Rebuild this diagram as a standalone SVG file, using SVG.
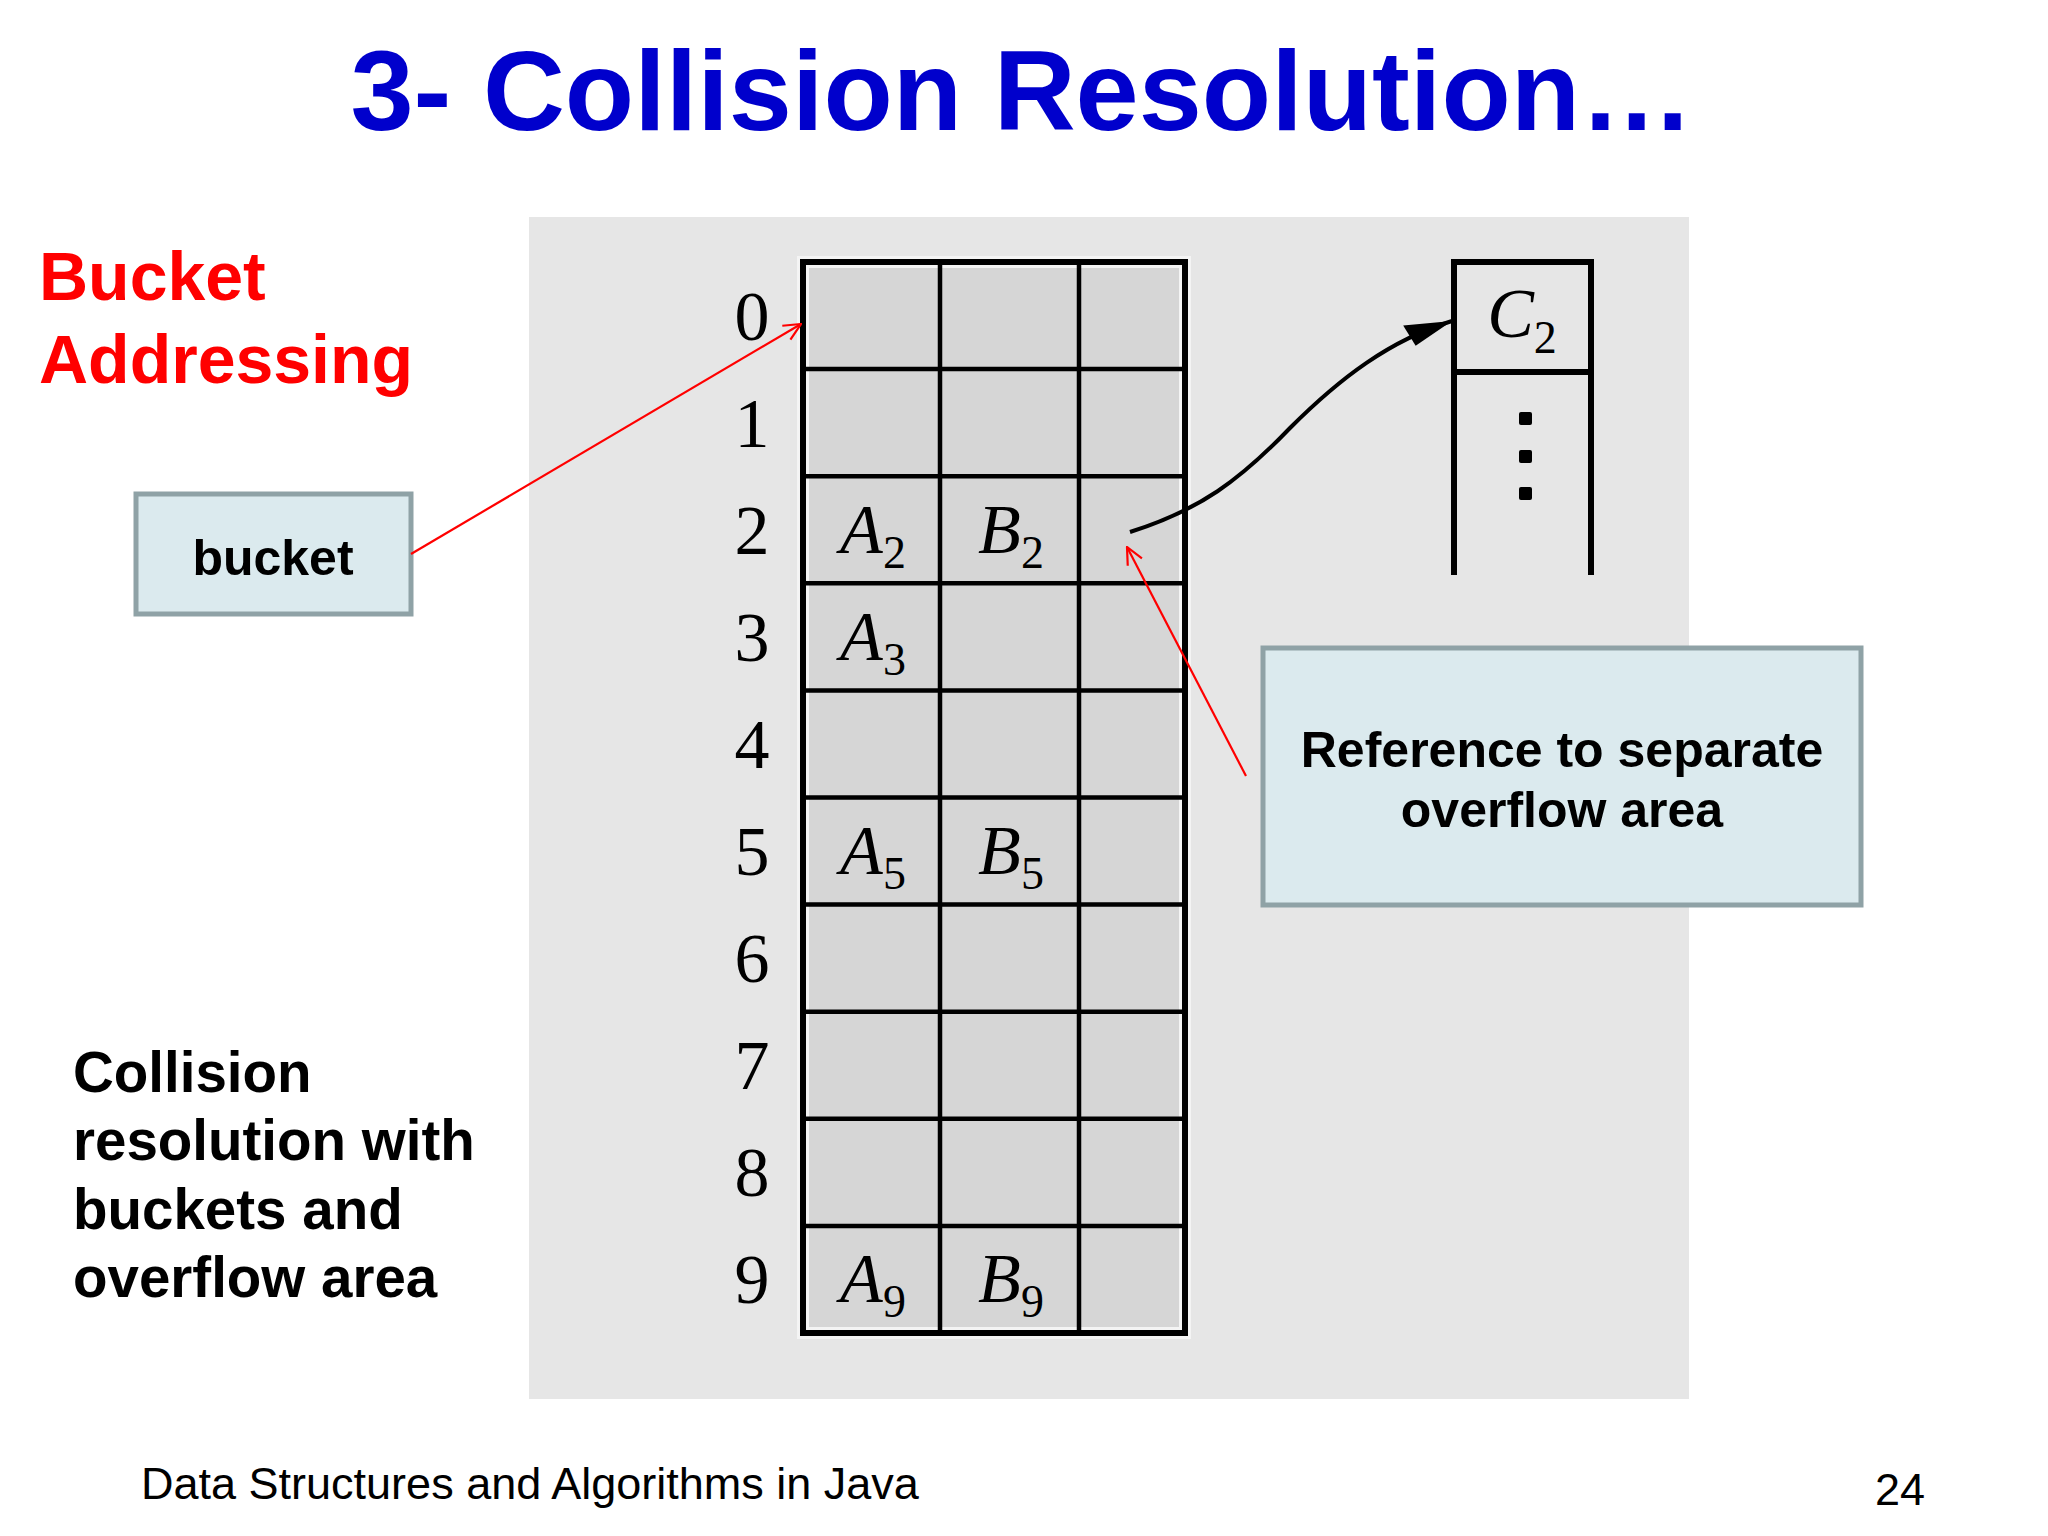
<svg xmlns="http://www.w3.org/2000/svg" width="2048" height="1536" viewBox="0 0 2048 1536">
<defs>
<style>
.sans{font-family:"Liberation Sans",Arial,sans-serif}
.title{font-size:113.5px;font-weight:bold;fill:#0000cc}
.red{font-size:68px;font-weight:bold;fill:#ff0000}
.lbl{font-size:50px;font-weight:bold;fill:#000}
.note{font-size:56.5px;font-weight:bold;fill:#000}
.foot{font-size:45px;fill:#000}
.box{fill:#dbeaee;stroke:#8fa2a6;stroke-width:5}
.cell{fill:#d6d6d6}
.gl{stroke:#000;stroke-width:4.5;fill:none}
.num{font-family:"Liberation Serif","Times New Roman",serif;font-size:70px;fill:#000;text-anchor:middle}
.it{font-family:"Liberation Serif","Times New Roman",serif;font-size:70px;font-style:italic;fill:#000;text-anchor:middle}
.sub{font-size:46px;font-style:normal}
.redln{stroke:#ff0000;stroke-width:2.2;fill:none}
</style>
<marker id="openRed" viewBox="0 0 20 20" refX="19" refY="10" markerWidth="20" markerHeight="20" markerUnits="userSpaceOnUse" orient="auto">
<path d="M2,2 L19,10 L2,18" fill="none" stroke="#ff0000" stroke-width="2.2"/>
</marker>
<marker id="solidBlk" viewBox="0 0 50 30" refX="48" refY="15" markerWidth="50" markerHeight="30" markerUnits="userSpaceOnUse" orient="auto">
<path d="M0,5 L48,15 L6,28 Z" fill="#000"/>
</marker>
</defs>
<rect width="2048" height="1536" fill="#ffffff"/>

<text class="sans title" x="1022" y="130" text-anchor="middle">3- Collision Resolution…</text>

<text class="sans red" x="39" y="300">Bucket</text>
<text class="sans red" x="39" y="383">Addressing</text>

<rect id="panel" x="529" y="217" width="1160" height="1182" fill="#e6e6e6"/>

<g id="table">
<rect x="803" y="262" width="382" height="1071" class="cell" stroke="#f4f4f4" stroke-width="12"/>
<rect x="803" y="262" width="382" height="1071" fill="none" stroke="#000" stroke-width="6"/>
<path class="gl" d="M940,262V1333M1079,262V1333M803,369.1H1185M803,476.2H1185M803,583.3H1185M803,690.4H1185M803,797.5H1185M803,904.6H1185M803,1011.7H1185M803,1118.8H1185M803,1225.9H1185"/>
<text class="num" x="752" y="340">0</text>
<text class="num" x="752" y="447">1</text>
<text class="num" x="752" y="554">2</text>
<text class="num" x="752" y="661">3</text>
<text class="num" x="752" y="768">4</text>
<text class="num" x="752" y="875">5</text>
<text class="num" x="752" y="982">6</text>
<text class="num" x="752" y="1089">7</text>
<text class="num" x="752" y="1196">8</text>
<text class="num" x="752" y="1303">9</text>
<text class="it" x="873" y="553">A<tspan class="sub" dy="15">2</tspan></text>
<text class="it" x="1011" y="553">B<tspan class="sub" dy="15">2</tspan></text>
<text class="it" x="873" y="660">A<tspan class="sub" dy="15">3</tspan></text>
<text class="it" x="873" y="874">A<tspan class="sub" dy="15">5</tspan></text>
<text class="it" x="1011" y="874">B<tspan class="sub" dy="15">5</tspan></text>
<text class="it" x="873" y="1302">A<tspan class="sub" dy="15">9</tspan></text>
<text class="it" x="1011" y="1302">B<tspan class="sub" dy="15">9</tspan></text>
</g>

<g id="overflow">
<path d="M1454,575V262H1591V575M1454,372H1591" fill="none" stroke="#000" stroke-width="6"/>
<text class="it" x="1522" y="337">C<tspan class="sub" dy="16">2</tspan></text>
<rect x="1519" y="412" width="13" height="13" rx="2" fill="#000"/>
<rect x="1519" y="450" width="13" height="13" rx="2" fill="#000"/>
<rect x="1519" y="487" width="13" height="13" rx="2" fill="#000"/>
</g>

<g id="bucket">
<rect class="box" x="136" y="494" width="275" height="120"/>
<text class="sans lbl" x="273" y="575" text-anchor="middle">bucket</text>
</g>

<g id="reference">
<rect class="box" x="1263" y="648" width="598" height="257"/>
<text class="sans lbl" x="1562" y="767" text-anchor="middle">Reference to separate</text>
<text class="sans lbl" x="1562" y="827" text-anchor="middle">overflow area</text>
</g>

<g id="caption">
<text class="sans note" x="73" y="1092">Collision</text>
<text class="sans note" x="73" y="1160">resolution with</text>
<text class="sans note" x="73" y="1229">buckets and</text>
<text class="sans note" x="73" y="1297">overflow area</text>
</g>

<g id="connectors">
<path d="M1130,532 C1200,510 1240,480 1290,428 C1340,378 1390,340 1452,321" fill="none" stroke="#000" stroke-width="4" marker-end="url(#solidBlk)"/>
<line class="redln" x1="411" y1="554" x2="801" y2="324" marker-end="url(#openRed)"/>
<line class="redln" x1="1246" y1="776" x2="1127" y2="547" marker-end="url(#openRed)"/>
</g>

<text class="sans foot" x="141" y="1499">Data Structures and Algorithms in Java</text>
<text class="sans foot" x="1875" y="1505">24</text>
</svg>
